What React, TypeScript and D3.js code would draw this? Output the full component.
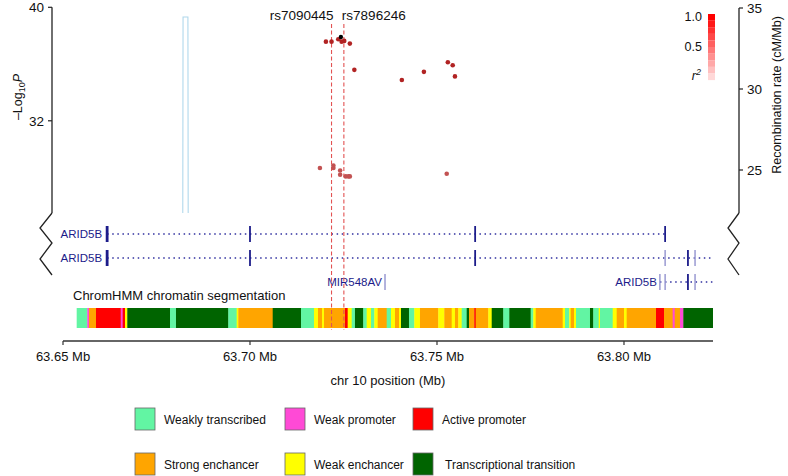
import React from 'react';
import * as d3 from 'd3';

// ---------- data ----------
const xDomain: [number, number] = [63.65, 63.8238];
const xTicks = [63.65, 63.7, 63.75, 63.8];
const pTicks = [32, 40];
const recTicks = [25, 30, 35];

const snpPos = [63.7203, 63.7218, 63.7236, 63.7245, 63.7252, 63.7267, 63.7279, 63.7406, 63.7465, 63.7529, 63.7542, 63.7548,
  63.7187, 63.7223, 63.7223, 63.7241, 63.7241, 63.7256, 63.7263, 63.7267, 63.7526];
const snpLogP = [37.58, 37.58, 37.75, 37.58, 37.63, 37.44, 35.59, 34.88, 35.45, 36.13, 35.92, 35.13,
  28.67, 28.85, 28.67, 28.5, 28.2, 28.08, 28.08, 28.08, 28.27];
const snpR2 = [0.95, 0.95, 0.95, 0.95, 0.95, 0.95, 0.95, 0.95, 0.95, 0.95, 0.95, 0.95,
  0.7, 0.7, 0.7, 0.7, 0.7, 0.7, 0.7, 0.7, 0.7];
const leadPos = [63.7243];
const leadLogP = [37.91];

const markerNames = ['rs7090445', 'rs7896246'];
const markerPos = [63.7218, 63.7251];

const recombPos = [63.65, 63.6819, 63.6821, 63.6834, 63.6836, 63.8238];
const recombRate = [0.6, 0.6, 34.44, 34.44, 0.6, 0.6];

const geneNames = ['ARID5B', 'ARID5B', 'ARID5B', 'MIR548AV'];
const geneRow = [0, 1, 2, 2];
const geneStart = [63.6618, 63.6618, 63.8096, 63.7361];
const geneEnd = [63.811, 63.8238, 63.8238, 63.7361];
const geneExons = [
  [63.6618, 63.7, 63.7602, 63.811],
  [63.6618, 63.7, 63.7602, 63.811, 63.8171, 63.819],
  [63.8096, 63.811, 63.8171, 63.819],
  [63.7361],
];
const geneExonDark = [
  [true, true, true, true],
  [true, true, true, false, true, false],
  [false, false, true, false],
  [false],
];

const stateNames = ['Weakly transcribed', 'Weak promoter', 'Active promoter', 'Strong enchancer', 'Weak enchancer', 'Transcriptional transition'];
const stateColors = ['#62f5a3', '#ff4ad6', '#ff0000', '#ffa500', '#ffff00', '#006400'];
// state codes: 0 WT, 1 WP, 2 AP, 3 SE, 4 WE, 5 TT
const segStartKb = [3.66, 6.5, 6.95, 8.82, 15.43, 15.96, 16.58, 17.19, 28.61, 30.21, 44.2, 46.44, 46.87, 56.07, 63.64, 67.11, 68.18, 69.25, 69.79,
  75.4, 76.12, 77.19, 78.07, 80.29, 81.2, 82.35, 83.24, 84.14, 86.55, 87.7, 88.77, 89.84, 90.37, 92.51, 93.93, 95.45, 100.35, 101.95, 103.93,
  104.81, 105.7, 106.6, 107.94, 108.56, 109.97, 110.35, 113.72, 114.63, 117.73, 119.33, 125.05, 125.75, 126.39, 133.61, 134.22, 135.37, 135.75,
  136.63, 137.17, 140.91, 141.79, 143.24, 143.58, 146.98, 148.05, 150.0, 150.72, 158.56, 160.7, 163.02, 163.56, 164.97, 165.86];
const segState = [0, 1, 3, 2, 1, 2, 4, 5, 0, 5, 0, 4, 3, 5, 0, 4, 3, 4, 3,
  2, 4, 0, 5, 0, 4, 0, 4, 3, 0, 4, 3, 4, 5, 0, 4, 3, 4, 3, 4,
  3, 4, 0, 5, 3, 2, 3, 4, 5, 0, 5, 0, 4, 3, 4, 0, 4, 3,
  4, 0, 5, 0, 4, 0, 4, 3, 4, 3, 2, 3, 1, 3, 1, 5];
const segEndKb = 173.72;
const legendOrder = [0, 1, 2, 3, 4, 5];

const r2Steps = [1.0, 0.9, 0.8, 0.7, 0.6, 0.5, 0.4, 0.3, 0.2, 0.1];

// ---------- layout ----------
const W = 788, H = 476;
const FONT = '"Liberation Sans", Arial, Helvetica, sans-serif';
const plotTop = 7.3, plotBottom = 213;
const axL = 52, axR = 739;

export default function App() {
  const x = d3.scaleLinear().domain(xDomain).range([63, 713]);
  const yP = d3.scaleLinear().domain([25.5, 40]).range([plotBottom, plotTop]);
  const yR = d3.scaleLinear().domain([25, 35]).range([170, 8]);
  const r2Color = d3.scaleLinear<string>().domain([0, 1]).range(['#f4d4d4', '#ad1a1a']);
  const legColor = d3.scaleLinear<string>().domain([0, 1]).range(['#fff0f0', '#ff0000']);

  const recLine = d3.line<number>().x((_, i) => x(recombPos[i])).y((d) => yR(d));
  const rowY = [234, 258, 282];
  const barTop = 308, barH = 20;
  const axisY = 341;

  const zig = (cx: number, dx: number) =>
    d3.line()([[cx, plotBottom], [cx + dx, plotBottom + 15], [cx, plotBottom + 30], [cx + dx, plotBottom + 46], [cx, plotBottom + 62]]) || '';

  const legX = [135, 285, 413];
  const legY = [408, 453];

  return (
    <svg width={W} height={H} style={{ position: 'absolute', left: 0, top: 0, background: '#fff' }} fontFamily={FONT}>
      <defs>
        <clipPath id="plotclip">
          <rect x={axL} y={0} width={axR - axL} height={plotBottom} />
        </clipPath>
      </defs>

      {/* recombination rate */}
      <path d={recLine(recombRate) || ''} fill="none" stroke="#b0d8ec" strokeWidth={1.1} clipPath="url(#plotclip)" />

      {/* left axis */}
      <line x1={axL} x2={axL} y1={plotTop} y2={plotBottom} stroke="#222" strokeWidth={1.3} />
      <path d={zig(axL, -12)} fill="none" stroke="#222" strokeWidth={1.3} />
      {pTicks.map((t) => (
        <g key={t}>
          <line x1={axL - 4} x2={axL} y1={yP(t)} y2={yP(t)} stroke="#222" strokeWidth={1.2} />
          <text x={axL - 8} y={yP(t) + 5} textAnchor="end" fontSize={13.5} fill="#111">{t}</text>
        </g>
      ))}
      <text transform={`translate(22,97) rotate(-90)`} textAnchor="middle" fontSize={12.5} fill="#111">
        –Log<tspan fontSize={9} dy={3}>10</tspan><tspan dy={-3} fontStyle="italic">P</tspan>
      </text>

      {/* right axis */}
      <line x1={axR} x2={axR} y1={8} y2={plotBottom} stroke="#222" strokeWidth={1.3} />
      <path d={zig(axR, -11)} fill="none" stroke="#222" strokeWidth={1.3} />
      {recTicks.map((t) => (
        <g key={t}>
          <line x1={axR} x2={axR + 4} y1={yR(t)} y2={yR(t)} stroke="#222" strokeWidth={1.2} />
          <text x={axR + 8} y={yR(t) + 5} textAnchor="start" fontSize={13.5} fill="#111">{t}</text>
        </g>
      ))}
      <text transform={`translate(781,95) rotate(-90)`} textAnchor="middle" fontSize={12.5} fill="#111">
        Recombination rate (cM/Mb)
      </text>

      {/* r2 legend */}
      {r2Steps.map((v, i) => (
        <rect key={v} x={708} y={14 + i * 6.6} width={7} height={6.7} fill={legColor(v)} />
      ))}
      <text x={702} y={21} textAnchor="end" fontSize={12.5} fill="#111">1.0</text>
      <text x={702} y={51} textAnchor="end" fontSize={12.5} fill="#111">0.5</text>
      <text x={701} y={80} textAnchor="end" fontSize={12.5} fontStyle="italic" fill="#111">
        r<tspan fontSize={9} dy={-5}>2</tspan>
      </text>

      {/* genes */}
      {geneNames.map((g, gi) => {
        const y = rowY[geneRow[gi]];
        const x0 = x(geneStart[gi]);
        const x1 = x(geneEnd[gi]);
        return (
          <g key={gi}>
            {x1 > x0 && (
              <line x1={x0} x2={x1} y1={y} y2={y} stroke="#3030a0" strokeWidth={1.3} strokeDasharray="1.5 3.6" />
            )}
            {geneExons[gi].map((e, ei) => {
              const dark = geneExonDark[gi][ei];
              const first = gi < 2 && ei === 0;
              return (
                <line key={ei} x1={x(e)} x2={x(e)} y1={y - 8} y2={y + 8}
                  stroke={dark ? '#1c1c8a' : '#9a9ad2'} strokeWidth={first ? 2.8 : dark ? 1.8 : 1.5} />
              );
            })}
            <text x={x0 - (gi < 2 ? 5 : 3)} y={y + 4} textAnchor="end" fontSize={11.5} fill="#1c1c8a">{g}</text>
          </g>
        );
      })}

      {/* ChromHMM */}
      <text x={73} y={300} fontSize={13} fill="#111">ChromHMM chromatin segmentation</text>
      {segStartKb.map((s, i) => {
        const e = i < segStartKb.length - 1 ? segStartKb[i + 1] : segEndKb;
        const a = x(xDomain[0] + s / 1000);
        const b = x(xDomain[0] + e / 1000);
        return <rect key={i} x={a} y={barTop} width={b - a + 0.3} height={barH} fill={stateColors[segState[i]]} />;
      })}

      {/* marker lines */}
      {markerPos.map((p, i) => (
        <g key={i}>
          <line x1={x(p)} x2={x(p)} y1={24} y2={330} stroke="#e25252" strokeWidth={1.1} strokeDasharray="4 2.5" />
          <text x={i === 0 ? x(p) + 2 : x(p) - 2} y={20} textAnchor={i === 0 ? 'end' : 'start'} fontSize={13.5} fill="#111">
            {markerNames[i]}
          </text>
        </g>
      ))}

      {/* SNPs */}
      {snpPos.map((p, i) => (
        <circle key={i} cx={x(p)} cy={yP(snpLogP[i])} r={2.3} fill={r2Color(snpR2[i])} />
      ))}
      {leadPos.map((p, i) => (
        <circle key={i} cx={x(p)} cy={yP(leadLogP[i])} r={2.2} fill="#000" />
      ))}

      {/* x axis */}
      <line x1={x(xDomain[0])} x2={x(xDomain[1])} y1={axisY} y2={axisY} stroke="#333" strokeWidth={1.3} />
      {xTicks.map((t) => (
        <g key={t}>
          <line x1={x(t)} x2={x(t)} y1={axisY} y2={axisY + 4} stroke="#333" strokeWidth={1.2} />
          <text x={x(t)} y={361} textAnchor="middle" fontSize={13} fill="#111">{t.toFixed(2)} Mb</text>
        </g>
      ))}
      <text x={388} y={385} textAnchor="middle" fontSize={13} fill="#111">chr 10 position (Mb)</text>

      {/* chromatin legend */}
      {legendOrder.map((s, i) => {
        const col = i % 3;
        const row = Math.floor(i / 3);
        return (
          <g key={s}>
            <rect x={legX[col]} y={legY[row]} width={20} height={22} fill={stateColors[s]} stroke="#666" strokeWidth={0.8} />
            <text x={legX[col] + 29 + (col === 2 && row === 1 ? 3 : 0)} y={legY[row] + 16} fontSize={12} fill="#111">{stateNames[s]}</text>
          </g>
        );
      })}
    </svg>
  );
}
